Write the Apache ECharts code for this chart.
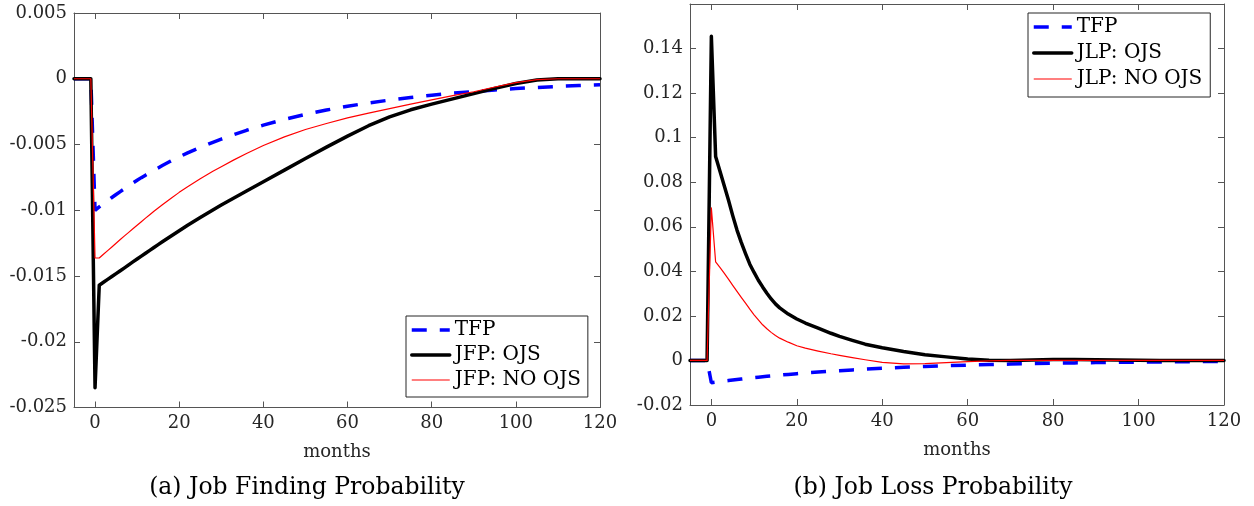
<!DOCTYPE html>
<html>
<head>
<meta charset="utf-8">
<script src="https://cdn.jsdelivr.net/npm/echarts@6/dist/echarts.min.js"></script>
<style>
html,body{margin:0;padding:0;background:#ffffff;}
#chart{width:1254px;height:506px;}
</style>
</head>
<body>
<div id="chart"></div>
<script>
// ---------------- data ----------------
const months = [-5,-4,-3,-2,-1,
  0,1,2,3,4,5,6,7,8,9,10,11,12,13,14,15,16,
  18,20,22,25,28,30,33,36,40,
  45,50,55,60,65,70,75,80,85,90,95,100,105,110,115,120];
const xTicks = [0,20,40,60,80,100,120];

// TFP shock (same in both panels)
const tfp = [0,0,0,0,0,
  -0.01000,-0.00975,-0.00951,-0.00927,-0.00903,-0.00880,-0.00858,-0.00836,-0.00814,-0.00793,-0.00772,-0.00752,-0.00733,-0.00714,-0.00696,-0.00678,-0.00660,
  -0.00626,-0.00594,-0.00564,-0.00522,-0.00483,-0.00459,-0.00424,-0.00392,-0.00353,
  -0.00309,-0.00271,-0.00238,-0.00209,-0.00184,-0.00162,-0.00142,-0.00125,-0.00110,-0.00097,-0.00085,-0.00075,-0.00066,-0.00058,-0.00051,-0.00045];

// (a) Job finding probability
const jfpOjs = [0,0,0,0,0,
  -0.02350,-0.01570,-0.01548,-0.01526,-0.01504,-0.01482,-0.01460,-0.01438,-0.01415,-0.01393,-0.01371,-0.01349,-0.01327,-0.01305,-0.01283,-0.01261,-0.01240,
  -0.01198,-0.01156,-0.01114,-0.01055,-0.00998,-0.00960,-0.00907,-0.00854,-0.00783,
  -0.00695,-0.00607,-0.00520,-0.00436,-0.00357,-0.00290,-0.00236,-0.00193,-0.00153,-0.00113,-0.00073,-0.00036,-0.00010,0,0,0];
const jfpNoOjs = [0,0,0,0,0,
  -0.01363,-0.01363,-0.01335,-0.01307,-0.01279,-0.01251,-0.01223,-0.01195,-0.01168,-0.01141,-0.01114,-0.01087,-0.01060,-0.01034,-0.01008,-0.00983,-0.00958,
  -0.00910,-0.00864,-0.00821,-0.00760,-0.00704,-0.00669,-0.00617,-0.00568,-0.00508,
  -0.00442,-0.00386,-0.00340,-0.00298,-0.00261,-0.00227,-0.00193,-0.00160,-0.00129,-0.00099,-0.00063,-0.00029,-0.00007,0,0,0];

// (b) Job loss probability
const jlpOjs = [0,0,0,0,0,
  0.1455,0.0915,0.0850,0.0785,0.0720,0.0650,0.0585,0.0530,0.0480,0.0432,0.0395,0.0360,0.0330,0.0302,0.0276,0.0254,0.0236,
  0.0208,0.0186,0.0168,0.0145,0.0122,0.0108,0.0090,0.0073,0.0057,
  0.0040,0.0026,0.0016,0.0006,0.0001,0,0.0002,0.0004,0.0004,0.0003,0.0002,0.0001,0,0,0,0];
const jlpNoOjs = [0,0,0,0,0,
  0.0685,0.0442,0.0418,0.0392,0.0365,0.0337,0.0310,0.0283,0.0257,0.0230,0.0205,0.0182,0.0160,0.0142,0.0126,0.0112,0.0100,
  0.0082,0.0066,0.0055,0.0042,0.0030,0.0023,0.0013,0.0003,-0.0009,
  -0.0015,-0.0014,-0.0010,-0.0005,-0.0002,0,0,0,0,0,0,0,0,0,0,0];

const namesA = ['TFP','JFP: OJS','JFP: NO OJS'];
const namesB = ['TFP','JLP: OJS','JLP: NO OJS'];
const captions = ['(a) Job Finding Probability','(b) Job Loss Probability'];
const xName = 'months';

// ---------------- chart ----------------
const FONT = 'DejaVu Serif';
const AX = '#555555';
const TXT = '#262626';
const pairs = ys => months.map((m, i) => [m, ys[i]]);

function xAx(grid, pos, main) {
  return {
    type: 'value', gridIndex: grid, position: pos, min: -5, max: 120,
    axisLine: { show: true, onZero: false, lineStyle: { color: AX, width: 1 } },
    axisTick: { show: true, inside: true, length: 6, customValues: xTicks, lineStyle: { color: AX } },
    axisLabel: { show: main, customValues: xTicks, margin: 7, color: TXT, fontFamily: FONT, fontSize: 18 },
    splitLine: { show: false },
    name: main ? xName : '', nameLocation: 'middle', nameGap: 36,
    nameTextStyle: { color: TXT, fontFamily: FONT, fontSize: 18 }
  };
}
function yAx(grid, pos, min, max, interval, digits, main, showMax) {
  return {
    type: 'value', gridIndex: grid, position: pos, min: min, max: max, interval: interval,
    axisLine: { show: true, onZero: false, lineStyle: { color: AX, width: 1 } },
    axisTick: { show: true, inside: true, length: 6, lineStyle: { color: AX } },
    axisLabel: { show: main, margin: 7, showMaxLabel: showMax, showMinLabel: true,
      color: TXT, fontFamily: FONT, fontSize: 18,
      formatter: v => String(+(+v).toFixed(digits)) },
    splitLine: { show: false }
  };
}

const blueStyle = { color: '#0000ff', width: 3.5, type: [15, 13], cap: 'butt' };
const blackStyle = { color: '#000000', width: 3.5, join: 'round', cap: 'round' };
const redStyle = { color: '#ff0000', width: 1.2, join: 'round' };

function ser(name, ys, xi, yi, style) {
  return {
    type: 'line', name: name, data: pairs(ys), xAxisIndex: xi, yAxisIndex: yi,
    symbol: 'none', showSymbol: false, smooth: false, animation: false, silent: true,
    lineStyle: style, itemStyle: { color: style.color }, clip: true
  };
}

function legendOf(names, styles, left, top, gap, padding) {
  return {
    orient: 'vertical', left: left, top: top, selectedMode: false,
    itemWidth: 38, itemHeight: 20, itemGap: gap, padding: padding,
    borderColor: '#262626', borderWidth: 1, backgroundColor: '#ffffff',
    itemStyle: { opacity: 0 },
    textStyle: { color: '#000000', fontFamily: FONT, fontSize: 20 },
    data: names.map((n, i) => ({ name: n, lineStyle: { width: styles[i].width, type: styles[i].type || 'solid', color: styles[i].color } }))
  };
}

const chart = echarts.init(document.getElementById('chart'), null, { renderer: 'canvas' });
chart.setOption({
  backgroundColor: '#ffffff',
  animation: false,
  grid: [
    { left: 74, top: 13, width: 526, height: 394.5, containLabel: false },
    { left: 690, top: 4, width: 534, height: 401, containLabel: false }
  ],
  xAxis: [xAx(0, 'bottom', true), xAx(0, 'top', false), xAx(1, 'bottom', true), xAx(1, 'top', false)],
  yAxis: [
    yAx(0, 'left', -0.025, 0.005, 0.005, 3, true, true),
    yAx(0, 'right', -0.025, 0.005, 0.005, 3, false, true),
    yAx(1, 'left', -0.02, 0.16, 0.02, 2, true, false),
    yAx(1, 'right', -0.02, 0.16, 0.02, 2, false, false)
  ],
  legend: [
    legendOf(namesA, [blueStyle, blackStyle, redStyle], 406, 316, 5, [4, 7, 7, 4]),
    legendOf(namesB, [blueStyle, blackStyle, redStyle], 1028, 13, 6, [4, 8, 8, 4])
  ],
  series: [
    ser(namesA[0], tfp, 0, 0, blueStyle),
    ser(namesA[1], jfpOjs, 0, 0, blackStyle),
    ser(namesA[2], jfpNoOjs, 0, 0, redStyle),
    ser(namesB[0], tfp, 2, 2, blueStyle),
    ser(namesB[1], jlpOjs, 2, 2, blackStyle),
    ser(namesB[2], jlpNoOjs, 2, 2, redStyle)
  ],
  graphic: [
    { type: 'text', x: 307, y: 488, silent: true,
      style: { text: captions[0], fontFamily: FONT, fontSize: 23.5, fill: '#000000',
               align: 'center', verticalAlign: 'middle', textAlign: 'center', textVerticalAlign: 'middle' } },
    { type: 'text', x: 933, y: 488, silent: true,
      style: { text: captions[1], fontFamily: FONT, fontSize: 23.5, fill: '#000000',
               align: 'center', verticalAlign: 'middle', textAlign: 'center', textVerticalAlign: 'middle' } }
  ]
});
</script>
</body>
</html>
